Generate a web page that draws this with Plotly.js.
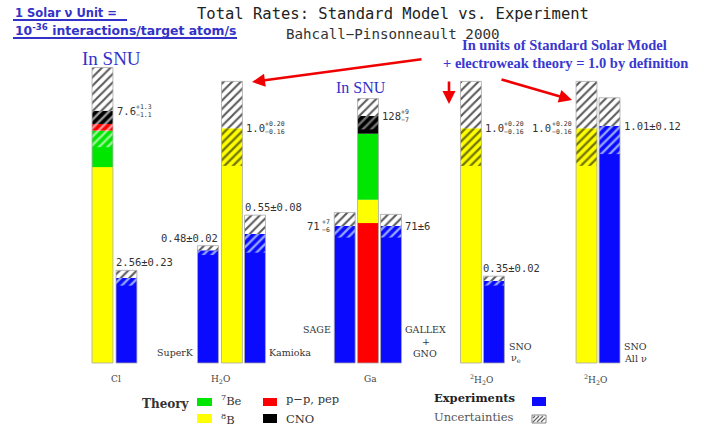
<!DOCTYPE html>
<html><head><meta charset="utf-8">
<script src="https://cdn.plot.ly/plotly-3.0.1.min.js"></script>
<style>html,body{margin:0;padding:0;background:#fff}#chart{width:708px;height:427px}</style>
</head><body><div id="chart"></div>
<script>
// ---------------- data ----------------
const barNames = ['Cl theory','Cl exp','SuperK','H2O theory','Kamioka','SAGE','Ga theory','GALLEX+GNO','SNO theory (nu_e)','SNO nu_e','SNO theory (all)','SNO all nu'];
const barKind  = ['theory','exp','exp','theory','exp','exp','theory','exp','theory','exp','theory','exp'];
const barScale = ['y','y','y2','y2','y2','y3','y3','y3','y2','y2','y2','y2']; // y: Cl (SNU), y2: SSM units, y3: Ga (SNU)
const b8      = [5.9, 0, 0, 1.0, 0, 0, 12.1, 0, 1.0, 0, 1.0, 0];
const be7     = [1.1, 0, 0, 0,   0, 0, 34.2, 0, 0,   0, 0,   0];
const ppPep   = [0.2, 0, 0, 0,   0, 0, 72.5, 0, 0,   0, 0,   0];
const cno     = [0.4, 0, 0, 0,   0, 0, 9.2,  0, 0,   0, 0,   0];
const expRate = [0, 2.56, 0.48, 0, 0.55, 71, 0, 71, 0, 0.35, 0, 1.01];
const central = [7.6, 2.56, 0.48, 1.0, 0.55, 71, 128, 71, 1.0, 0.35, 1.0, 1.01];
const errPlus = [1.3, 0.23, 0.02, 0.20, 0.08, 7, 9, 6, 0.20, 0.02, 0.20, 0.12];
const errMinus= [1.1, 0.23, 0.02, 0.16, 0.08, 6, 7, 6, 0.16, 0.02, 0.16, 0.12];
const centralText = ['7.6','2.56','0.48','1.0','0.55','71','128','71','1.0','0.35','1.0','1.01'];
const plusText  = ['+1.3','0.23','0.02','+0.20','0.08','+7','+9','6','+0.20','0.02','+0.20','0.12'];
const minusText = ['−1.1','0.23','0.02','−0.16','0.08','−6','−7','6','−0.16','0.02','−0.16','0.12'];
const categories = ['Cl','H<sub>2</sub>O','Ga','<sup>2</sup>H<sub>2</sub>O','<sup>2</sup>H<sub>2</sub>O'];

// ---------------- layout helpers ----------------
const W = 708, H = 427;
const barPos = [0, 1.02, 4.49, 5.51, 6.49, 10.31, 11.30, 12.28, 15.68, 16.66, 20.60, 21.58];
const barW = 0.89;
const orderCl = ['b8','be7','ppPep','cno'];
const orderGa = ['ppPep','b8','be7','cno'];
const stackOrder = [orderCl,null,null,['b8'],null,null,orderGa,null,['b8'],null,['b8'],null];
const comp = {b8:b8, be7:be7, ppPep:ppPep, cno:cno};
const compColor = {b8:'#ffff00', be7:'#00e600', ppPep:'#ff0000', cno:'#000000'};
const lowHatchColor = {'Cl theory':'rgba(255,255,255,0.6)','Ga theory':'rgba(255,255,255,0.45)','yellow':'rgba(60,60,0,0.7)','exp':'rgba(170,190,255,0.85)'};
const labelSide = ['right','aboveL','aboveR','right','aboveL','left','right','right','right','aboveL','left','right'];

const traces = [];
barNames.forEach((name, i) => {
  const ax = barScale[i];
  const common = {type:'bar', yaxis:ax, width:barW, hoverinfo:'skip', showlegend:false};
  if (barKind[i] === 'theory') {
    let base = 0;
    stackOrder[i].forEach(k => {
      const v = comp[k][i];
      traces.push(Object.assign({}, common, {x:[barPos[i]], y:[v], base:[base], marker:{color:compColor[k], line:{width:0}}}));
      base += v;
    });
  } else {
    traces.push(Object.assign({}, common, {x:[barPos[i]], y:[expRate[i]], base:[0], marker:{color:'#0a0aff', line:{width:0}}}));
  }
  let fg;
  if (barKind[i] === 'exp') fg = lowHatchColor.exp;
  else if (lowHatchColor[name]) fg = lowHatchColor[name];
  else fg = lowHatchColor.yellow;
  traces.push(Object.assign({}, common, {x:[barPos[i]], y:[errMinus[i]], base:[central[i]-errMinus[i]],
    marker:{color:'rgba(0,0,0,0)', line:{width:0}, pattern:{shape:'/', fgcolor:fg, bgcolor:'rgba(0,0,0,0)', size:6, solidity:0.4}}}));
  traces.push(Object.assign({}, common, {x:[barPos[i]], y:[errPlus[i]], base:[central[i]],
    marker:{color:'#ffffff', line:{width:0}, pattern:{shape:'/', fgcolor:'#5a5a5a', bgcolor:'#ffffff', size:6, solidity:0.35}}}));
  traces.push(Object.assign({}, common, {x:[barPos[i]], y:[central[i]+errPlus[i]], base:[0],
    marker:{color:'rgba(0,0,0,0)', line:{width:0.8, color:'#a8a8a8'}}}));
});

// ---------------- annotations ----------------
const ann = [];
function P(x, y) { return {x: x / W, y: 1 - y / H, xref:'paper', yref:'paper'}; }
const labFont = {family:'DejaVu Sans Mono', size:10.5, color:'#333'};
const charW = 0.602 * labFont.size;
barNames.forEach((name, i) => {
  const ax = barScale[i];
  const symmetric = errPlus[i] === errMinus[i];
  const main = symmetric ? centralText[i] + '±' + plusText[i] : centralText[i];
  const side = labelSide[i];
  const a = {text:main, font:labFont, showarrow:false, xref:'x', yref:ax};
  let xanchor, x, y, yanchor = 'middle', yshift = 0, xshift;
  if (side === 'right') { x = barPos[i] + barW/2; xanchor = 'left'; xshift = 2; y = central[i]; }
  else if (side === 'left') { x = barPos[i] - barW/2; xanchor = 'right'; xshift = -2; y = central[i]; }
  else if (side === 'aboveL') { x = barPos[i] - barW/2; xanchor = 'left'; xshift = -2; y = central[i] + errPlus[i]; yanchor = 'bottom'; }
  else { x = barPos[i] + barW/2; xanchor = 'right'; xshift = 2; y = central[i] + errPlus[i]; yanchor = 'bottom'; }
  Object.assign(a, {x:x, y:y, xanchor:xanchor, yanchor:yanchor, xshift:xshift, yshift:yshift});
  if (!symmetric) {
    const smallFont = {family:'DejaVu Sans Mono', size:6.5, color:'#333'};
    const errTxt = plusText[i] + '<br>' + minusText[i];
    const mainW = centralText[i].length * charW + 2;
    if (xanchor === 'left') {
      ann.push(a);
      ann.push({text:errTxt, font:smallFont, showarrow:false, xref:'x', yref:ax, x:x, y:y, xanchor:'left', yanchor:'middle', xshift:xshift + mainW - 2, yshift:0, align:'left'});
    } else {
      const errW = Math.max(plusText[i].length, minusText[i].length) * 0.602 * 6.5 + 4;
      a.xshift = xshift - errW + 2;
      ann.push(a);
      ann.push({text:errTxt, font:smallFont, showarrow:false, xref:'x', yref:ax, x:x, y:y, xanchor:'right', yanchor:'middle', xshift:xshift, yshift:0, align:'left'});
    }
  } else ann.push(a);
});

const nameFont = {family:'DejaVu Serif', size:9.5, color:'#333'};
[
  ['SuperK', 196, 352, 'right'], ['Kamioka', 267, 352, 'left'], ['SAGE', 333, 329, 'right'],
  ['GALLEX', 425, 329, 'center'], ['+', 426, 341, 'center'], ['GNO', 425, 353, 'center'],
  ['SNO', 507, 346, 'left'], ['ν<sub>e</sub>', 509, 358, 'left'],
  ['SNO', 622, 346, 'left'], ['All ν', 622, 358, 'left']
].forEach(n => ann.push(Object.assign(P(n[1], n[2]), {text:n[0], font:nameFont, showarrow:false, xanchor:n[3], yanchor:'middle'})));

const catX = [116, 220, 370, 481, 595];
categories.forEach((c, k) => ann.push(Object.assign(P(catX[k], 379), {text:c, font:{family:'DejaVu Serif', size:9, color:'#444'}, showarrow:false, xanchor:'center', yanchor:'middle'})));

ann.push(Object.assign(P(393, 14), {text:'Total Rates: Standard Model vs. Experiment', font:{family:'DejaVu Sans Mono', size:15.5, color:'#222'}, showarrow:false, xanchor:'center', yanchor:'middle'}));
ann.push(Object.assign(P(393, 34), {text:'Bahcall−Pinsonneault 2000', font:{family:'DejaVu Sans Mono', size:14.2, color:'#333'}, showarrow:false, xanchor:'center', yanchor:'middle'}));
const blue = '#3232c8';
ann.push(Object.assign(P(13, 13), {text:'<b>1 Solar ν Unit =</b>', font:{family:'DejaVu Sans', size:11.5, color:blue}, showarrow:false, xanchor:'left', yanchor:'middle'}));
ann.push(Object.assign(P(13, 30), {text:'<b>10<sup>-36</sup> interactions/target atom/s</b>', font:{family:'DejaVu Sans', size:12.4, color:blue}, showarrow:false, xanchor:'left', yanchor:'middle'}));
ann.push(Object.assign(P(111, 58), {text:'In SNU', font:{family:'Liberation Serif', size:19, color:blue}, showarrow:false, xanchor:'center', yanchor:'middle'}));
ann.push(Object.assign(P(361, 87), {text:'In SNU', font:{family:'Liberation Serif', size:16, color:blue}, showarrow:false, xanchor:'center', yanchor:'middle'}));
ann.push(Object.assign(P(564, 45), {text:'<b>In units of Standard Solar Model</b>', font:{family:'Liberation Serif', size:14.5, color:'#3838d0'}, showarrow:false, xanchor:'center', yanchor:'middle'}));
ann.push(Object.assign(P(565, 63), {text:'<b>+ electroweak theory = 1.0 by definition</b>', font:{family:'Liberation Serif', size:14.5, color:'#3838d0'}, showarrow:false, xanchor:'center', yanchor:'middle'}));

[[252, 82, 423, 59], [449, 104, 449, 80], [572, 100, 500, 79]].forEach(r => {
  ann.push(Object.assign(P(r[0], r[1]), {text:'', showarrow:true, arrowhead:2, arrowsize:1, arrowwidth:2.6, arrowcolor:'#f00000', ax:r[2]-r[0], ay:r[3]-r[1], axref:'pixel', ayref:'pixel'}));
});

const legSerif = {family:'DejaVu Serif', size:12, color:'#333'};
ann.push(Object.assign(P(140, 404), {text:'<b>Theory</b>', font:legSerif, showarrow:false, xanchor:'left', yanchor:'middle'}));
ann.push(Object.assign(P(219, 400), {text:'<sup>7</sup>Be', font:{family:'DejaVu Serif', size:11.5, color:'#333'}, showarrow:false, xanchor:'left', yanchor:'middle'}));
ann.push(Object.assign(P(219, 419), {text:'<sup>8</sup>B', font:{family:'DejaVu Serif', size:11.5, color:'#333'}, showarrow:false, xanchor:'left', yanchor:'middle'}));
ann.push(Object.assign(P(284, 399), {text:'p−p, pep', font:{family:'DejaVu Serif', size:11.5, color:'#333'}, showarrow:false, xanchor:'left', yanchor:'middle'}));
ann.push(Object.assign(P(284, 419), {text:'CNO', font:{family:'DejaVu Serif', size:11.5, color:'#333'}, showarrow:false, xanchor:'left', yanchor:'middle'}));
ann.push(Object.assign(P(432, 398), {text:'<b>Experiments</b>', font:{family:'DejaVu Serif', size:11.5, color:'#222'}, showarrow:false, xanchor:'left', yanchor:'middle'}));
ann.push(Object.assign(P(432, 417), {text:'Uncertainties', font:{family:'DejaVu Serif', size:11.5, color:'#555'}, showarrow:false, xanchor:'left', yanchor:'middle'}));

function R(x0, y0, x1, y1, fill, line) { return {type:'rect', xref:'paper', yref:'paper', x0:x0/W, x1:x1/W, y0:1-y1/H, y1:1-y0/H, fillcolor:fill, line:{width:line?0.8:0, color:line||fill}}; }
function L(x0, y0, x1, y1, color, w) { return {type:'line', xref:'paper', yref:'paper', x0:x0/W, x1:x1/W, y0:1-y0/H, y1:1-y1/H, line:{color:color, width:w}}; }
const shapes = [
  R(197, 398, 212, 406, '#00e600'), R(197, 414, 212, 423, '#ffff00'),
  R(263, 398, 277, 406, '#ff0000'), R(263, 414, 277, 423, '#000000'),
  R(532, 397, 546, 406, '#0a0aff'), R(532, 415, 546, 423, '#ffffff', '#666'),
  L(533, 422, 539, 416, '#666', 1.2), L(537, 422, 543, 416, '#666', 1.2), L(541, 422, 545, 418, '#666', 1.2), L(533, 418, 535, 416, '#666', 1.2),
  L(13, 20, 127, 20, blue, 2), L(13, 38, 237, 38, blue, 2)
];

const hideAx = {visible:false, fixedrange:true};
const layout = {
  width:W, height:H, margin:{l:0, r:0, t:0, b:0}, paper_bgcolor:'#fff', plot_bgcolor:'#fff',
  barmode:'overlay', showlegend:false,
  xaxis:Object.assign({range:[-4.362, 25.77]}, hideAx),
  yaxis:Object.assign({range:[-64/33.2, 363/33.2]}, hideAx),
  yaxis2:Object.assign({range:[-64/234.7, 363/234.7], overlaying:'y'}, hideAx),
  yaxis3:Object.assign({range:[-64/1.93, 363/1.93], overlaying:'y'}, hideAx),
  annotations:ann, shapes:shapes
};
Plotly.newPlot('chart', traces, layout, {displayModeBar:false, staticPlot:true});
</script></body></html>
